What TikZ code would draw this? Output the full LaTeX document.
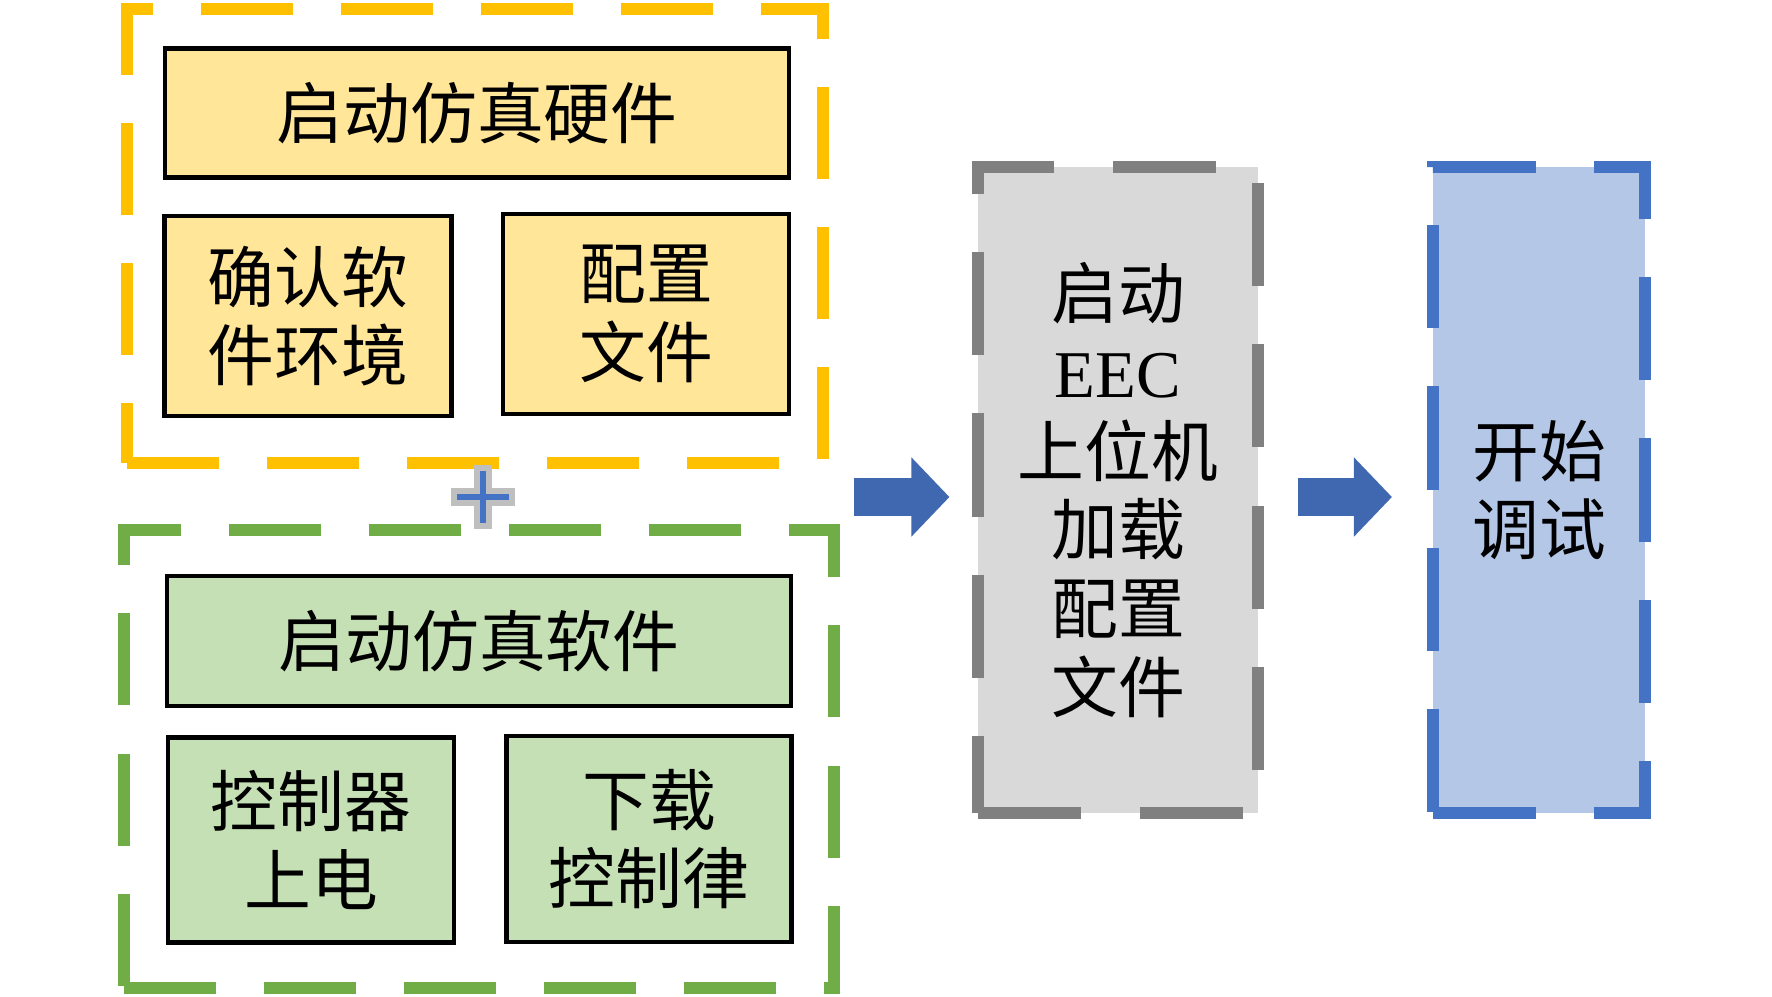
\documentclass[tikz,border=0pt]{standalone}
\usepackage{fontspec}
\setmainfont{Noto Sans CJK SC}
\newfontfamily\latinfont{Liberation Serif}
\usetikzlibrary{arrows.meta, calc}
\definecolor{hwline}{HTML}{FFC000}
\definecolor{hwfill}{HTML}{FFE699}
\definecolor{swline}{HTML}{70AD47}
\definecolor{swfill}{HTML}{C5E0B4}
\definecolor{eecline}{HTML}{808080}
\definecolor{eecfill}{HTML}{D9D9D9}
\definecolor{dbgline}{HTML}{4472C4}
\definecolor{dbgfill}{HTML}{B4C7E7}
\definecolor{arrowblue}{HTML}{4068B0}
\definecolor{plusgray}{HTML}{BFBFBF}
\tikzstyle{block} = [draw, rectangle, line width=1.3pt, inner sep=0pt, align=center, font=\fontsize{19pt}{22.4pt}\selectfont]
\tikzstyle{hardware} = [block, fill=hwfill]
\tikzstyle{software} = [block, fill=swfill]
\tikzstyle{group} = [rectangle, line width=3.4pt, inner sep=0pt, dash pattern=on 0.92cm off 0.48cm]
\tikzstyle{stage} = [block, line width=3.4pt, dash pattern=on 1.03cm off 0.58cm]
\tikzstyle{flow} = [draw=arrowblue, line width=0.38cm, -{Triangle[length=0.38cm, width=0.77cm]}]
\tikzstyle{plusmark} = [fill=dbgline, draw=plusgray, line width=1.5pt]

\begin{document}
\begin{tikzpicture}[x=0.01cm, y=-0.01cm]
    \useasboundingbox (0, 0) rectangle (1772, 996);

    % Hardware side.
    \node (hwgroup) [group, draw=hwline, minimum width=6.96cm, minimum height=4.54cm] at (475, 236) {};
    \node (hwstart) [hardware, minimum width=6.24cm, minimum height=1.29cm] at (477, 113) {启动仿真硬件};
    \node (hwenv) [hardware, minimum width=2.87cm, minimum height=2cm] at (308, 316) {确认软\\件环境};
    \node (hwcfg) [hardware, minimum width=2.86cm, minimum height=2cm] at (646, 314) {配置\\文件};

    % Software side.
    \node (swgroup) [group, draw=swline, minimum width=7.1cm, minimum height=4.57cm] at (479, 759) {};
    \node (swstart) [software, minimum width=6.24cm, minimum height=1.3cm] at (479, 641) {启动仿真软件};
    \node (swpower) [software, minimum width=2.86cm, minimum height=2.05cm] at (311, 840) {控制器\\上电};
    \node (swload) [software, minimum width=2.85cm, minimum height=2.06cm] at (649, 839) {下载\\控制律};

    % Host and debugging.
    \node (eec) [stage, draw=eecline, fill=eecfill, minimum width=2.79cm, minimum height=6.45cm] at (1118, 490) {启动\\{\latinfont EEC}\\上位机\\加载\\配置\\文件};
    \node (debug) [stage, draw=dbgline, fill=dbgfill, minimum width=2.12cm, minimum height=6.45cm] at (1539, 490) {开始\\调试};

    % Plus between the groups.
    \coordinate (plus) at (483, 497);
    \draw [plusmark] (plus) ++(-6, -29) -- ++(12, 0) -- ++(0, 23) -- ++(23, 0) -- ++(0, 12) -- ++(-23, 0)
        -- ++(0, 23) -- ++(-12, 0) -- ++(0, -23) -- ++(-23, 0) -- ++(0, -12) -- ++(23, 0) -- cycle;

    % Arrows.
    \draw [flow] ($(swgroup.east |- plus) + (14, 0)$) -- ($(eec.west |- plus) + (-23, 0)$);
    \draw [flow] ($(eec.east |- plus) + (34, 0)$) -- ($(debug.west |- plus) + (-35, 0)$);
\end{tikzpicture}
\end{document}
